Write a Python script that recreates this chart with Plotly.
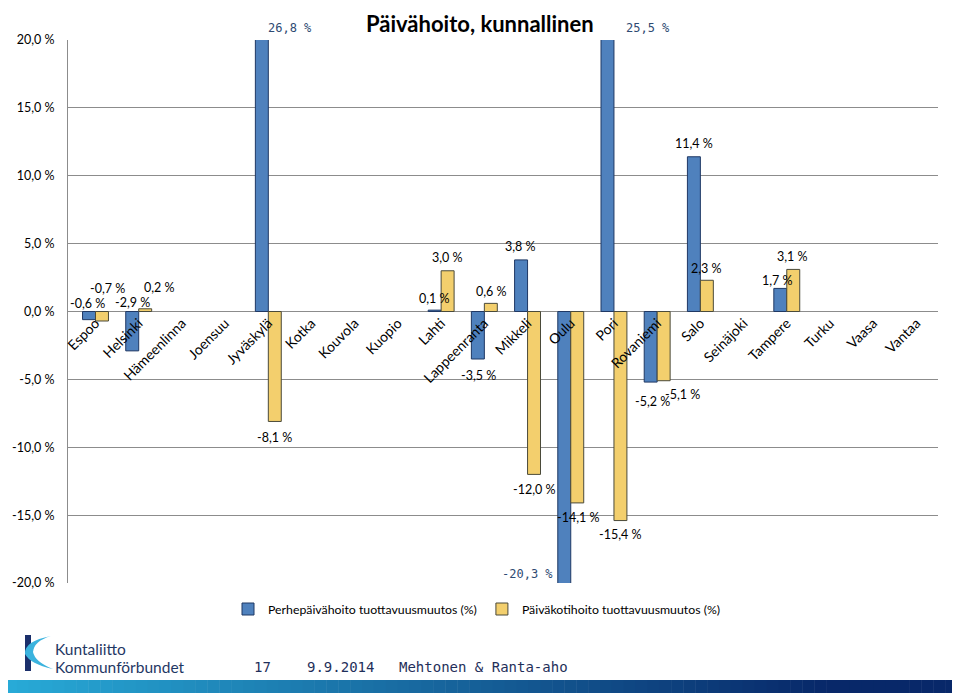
import plotly.graph_objects as go

# ---------------- data ----------------
cities = ["Espoo", "Helsinki", "Hämeenlinna", "Joensuu", "Jyväskylä", "Kotka", "Kouvola",
          "Kuopio", "Lahti", "Lappeenranta", "Mikkeli", "Oulu", "Pori", "Rovaniemi",
          "Salo", "Seinäjoki", "Tampere", "Turku", "Vaasa", "Vantaa"]
perhe = [-0.6, -2.9, None, None, 26.8, None, None, None, 0.1, -3.5, 3.8, -20.3, 25.5, -5.2,
         11.4, None, 1.7, None, None, None]
paivakoti = [-0.7, 0.2, None, None, -8.1, None, None, None, 3.0, 0.6, -12.0, -14.1, -15.4, -5.1,
             2.3, None, 3.1, None, None, None]
series_names = ["Perhepäivähoito tuottavuusmuutos (%)", "Päiväkotihoito tuottavuusmuutos (%)"]
y_ticks = [-20, -15, -10, -5, 0, 5, 10, 15, 20]
title_text = "Päivähoito, kunnallinen"

# label offsets (pixels) relative to bar end: (xshift, yshift)
perhe_lbl = [(-8, 16), (-6, 48), None, None, (22, 12), None, None, None, (-7, 12), (-6, -16),
             (-7, 13), (-43, 9), (34, 12), (-5, -19), (-6, 13), None, (-9, 8), None, None, None]
koti_lbl = [(12, 33), (21, 21), None, None, (6, -16), None, None, None, (6, 13), (7, 12),
            (6, -15), (7, -15), (6, -14), (25, -14), (6, 12), None, (6, 13), None, None, None]

# ---------------- layout geometry (page pixels, figure drawn at an 8px body offset) ----------------
OFF = 8
W, H = 960 - OFF, 696 - OFF
L, R, T, B = 68 - OFF, 22, 40 - OFF, 113
PW, PH = W - L - R, H - T - B
YMIN, YMAX = -20, 20


def px(x):
    return (x - OFF - L) / PW


def py(y):
    return (H - B - (y - OFF)) / PH


def fmt(v):
    return f"{v:.1f} %".replace(".", ",")


BLUE = "#4F81BD"
YELLOW = "#F3CF6D"
FONT = "Lato, 'Open Sans', sans-serif"
MONO = "DejaVu Sans Mono, monospace"

fig = go.Figure()
fig.add_trace(go.Bar(x=cities, y=perhe, name=series_names[0],
                     marker=dict(color=BLUE, line=dict(color="#1F3864", width=1))))
fig.add_trace(go.Bar(x=cities, y=paivakoti, name=series_names[1],
                     marker=dict(color=YELLOW, line=dict(color="#4A4A3A", width=1))))

annotations = []
for vals, offs in ((perhe, perhe_lbl), (paivakoti, koti_lbl)):
    for c, v, o in zip(cities, vals, offs):
        if v is None or o is None:
            continue
        clipped = v > YMAX or v < YMIN
        yv = max(min(v, YMAX), YMIN)
        annotations.append(dict(
            x=c, y=yv, xref="x", yref="y", text=fmt(v), showarrow=False,
            xshift=o[0], yshift=o[1],
            font=dict(family=MONO if clipped else FONT, size=12 if clipped else 12.5,
                      color="#2E4A72" if clipped else "#000000")))

# title (as high as the page allows)
annotations.append(dict(x=px(480), y=1 + (T - 0.5) / PH, xref="paper", yref="paper",
                        text=f"<b>{title_text}</b>", showarrow=False,
                        font=dict(family=FONT, size=22, color="#000000"),
                        xanchor="center", yanchor="top"))

# footer texts
for txt, x0 in (("17", 252), ("9.9.2014", 305), ("Mehtonen & Ranta-aho", 397)):
    annotations.append(dict(x=px(x0), y=py(667), xref="paper", yref="paper", text=txt,
                            showarrow=False, xanchor="left", yanchor="middle",
                            font=dict(family=MONO, size=14, color="#1F2F5A")))
for txt, yy in (("Kuntaliitto", 649), ("Kommunförbundet", 667)):
    annotations.append(dict(x=px(53), y=py(yy), xref="paper", yref="paper", text=txt,
                            showarrow=False, xanchor="left", yanchor="middle",
                            font=dict(family=FONT, size=15.5, color="#1F3864")))

shapes = []
# gradient footer bar
n = 80
x_start, x_end = 5, 957
c0 = (40, 170, 215)
c1 = (8, 40, 105)
for i in range(n):
    t = i / (n - 1)
    col = tuple(int(c0[k] + (c1[k] - c0[k]) * min(1, t * 1.15)) for k in range(3))
    xa = x_start + (x_end - x_start) * i / n
    xb = x_start + (x_end - x_start) * (i + 1) / n + 0.5
    shapes.append(dict(type="rect", xref="paper", yref="paper", x0=px(xa), x1=px(xb),
                       y0=py(693), y1=py(680), line=dict(width=0),
                       fillcolor=f"rgb{col}", layer="above"))

# logo: navy bar + cyan swoosh
shapes.append(dict(type="rect", xref="paper", yref="paper", x0=px(25), x1=px(31),
                   y0=py(671), y1=py(635), line=dict(width=0), fillcolor="#1B2F6B"))
pts = [("M", 51, 636), ("Q", 24, 641, 25, 654), ("Q", 30, 664, 53, 669),
       ("Q", 35, 662, 33, 652), ("Q", 34, 641, 51, 636)]
path = ""
for p in pts:
    if p[0] == "M":
        path += f"M {px(p[1])},{py(p[2])} "
    else:
        path += f"Q {px(p[1])},{py(p[2])} {px(p[3])},{py(p[4])} "
path += "Z"
shapes.append(dict(type="path", xref="paper", yref="paper", path=path,
                   line=dict(width=0), fillcolor="#3BB3DE"))

fig.update_layout(
    width=W, height=H,
    margin=dict(l=L, r=R, t=T, b=B, autoexpand=False),
    paper_bgcolor="white", plot_bgcolor="white",
    barmode="group", bargap=0.4, bargroupgap=0,
    showlegend=True,
    legend=dict(orientation="h", x=px(477), y=py(609), xanchor="center", yanchor="middle",
                font=dict(family=FONT, size=12.3, color="#000000"), itemwidth=30,
                traceorder="normal"),
    annotations=annotations, shapes=shapes,
    font=dict(family=FONT, color="#000000"),
    xaxis=dict(type="category", categoryorder="array", categoryarray=cities,
               anchor="free", position=0.5, showline=False, showgrid=False, zeroline=False,
               tickangle=-45, ticks="", tickfont=dict(family=FONT, size=14, color="#000000")),
    yaxis=dict(range=[YMIN, YMAX], tickvals=y_ticks, ticktext=[fmt(v) for v in y_ticks],
               showgrid=True, gridcolor="#8C8C8C", gridwidth=1, zeroline=False,
               showline=True, linecolor="#8C8C8C", linewidth=1, ticks="",
               ticklabelstandoff=10,
               tickfont=dict(family=FONT, size=12.5, color="#000000")),
)

fig.write_html("out.html")
